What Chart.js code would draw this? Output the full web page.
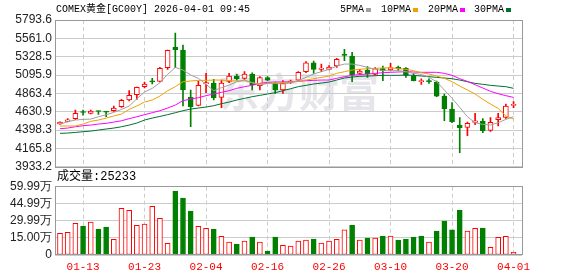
<!DOCTYPE html>
<html>
<head>
<meta charset="utf-8">
<script src="https://cdn.jsdelivr.net/npm/chart.js@4.4.1/dist/chart.umd.min.js"></script>
<style>
body{margin:0;background:#fff;}
#wrap{position:relative;width:578px;height:276px;}
canvas{position:absolute;left:0;top:0;}
</style>
</head>
<body>
<div id="wrap">
<canvas id="kChart" width="578" height="276"></canvas>
<canvas id="volChart" width="578" height="276"></canvas>
</div>
<script>
'use strict';

let title = 'COMEX黄金[GC00Y] 2026-04-01 09:45';
let volTitle = '成交量';

let dates = ['01-08','01-09','01-12','01-13','01-14','01-15','01-16','01-19','01-20','01-21',
'01-22','01-23','01-26','01-27','01-28','01-29','01-30','02-02','02-03','02-04',
'02-05','02-06','02-09','02-10','02-11','02-12','02-13','02-16','02-17','02-18',
'02-19','02-20','02-23','02-24','02-25','02-26','02-27','03-02','03-03','03-04',
'03-05','03-06','03-09','03-10','03-11','03-12','03-13','03-16','03-17','03-18',
'03-19','03-20','03-23','03-24','03-25','03-26','03-27','03-30','03-31','04-01'];

let open  = [4475,4508,4542,4624,4610,4637,4628,4643,4694,4779,4846,4948,5014,5015,5189,5451,5413,4812,4711,4982,
4994,4812,5015,5083,5053,5108,4960,5062,4990,4906,5003,5032,5138,5252,5168,5168,5210,5362,5337,5117,
5159,5104,5176,5159,5193,5180,5083,5013,5017,5007,4829,4664,4461,4432,4495,4512,4394,4529,4559,4711];
let high  = [4502,4542,4652,4652,4652,4640,4632,4702,4787,4897,4944,5007,5053,5193,5413,5629,5476,4906,5020,5117,
5041,5032,5117,5104,5138,5125,5075,5075,5007,5024,5032,5138,5265,5273,5235,5214,5307,5421,5383,5168,
5202,5189,5210,5244,5210,5189,5117,5049,5049,5020,4855,4745,4555,4500,4609,4542,4555,4609,4728,4758];
let low   = [4470,4500,4529,4588,4601,4597,4567,4635,4686,4766,4787,4931,4982,5007,5168,5189,4703,4440,4703,4872,
4779,4681,4999,5032,5041,4906,4906,5024,4863,4863,4990,5024,5125,5117,5138,5159,5193,5278,5011,5104,
5066,5096,5024,5151,5151,5066,5020,4978,4990,4821,4516,4491,4110,4326,4466,4364,4381,4449,4546,4681];
let close = [4498,4529,4610,4620,4639,4633,4625,4677,4774,4838,4939,4982,5009,5180,5409,5417,4906,4694,4965,4999,
4808,4994,5083,5049,5108,4969,5062,5032,4906,4990,5020,5130,5252,5168,5185,5197,5295,5345,5096,5147,
5108,5176,5151,5189,5172,5092,5024,5017,5013,4829,4669,4504,4428,4483,4516,4390,4495,4555,4703,4724];

let ma5  = [4470,4504,4525,4533,4537,4567,4592,4622,4660,4702,4795,4880,4927,4999,5104,5193,5159,5096,5054,4978,
4897,4935,4969,5011,5032,4999,4969,4990,4990,4982,4999,5024,5066,5109,5138,5168,5210,5235,5235,5218,
5193,5168,5151,5151,5151,5138,5117,5104,5066,5011,4906,4800,4686,4567,4491,4470,4461,4491,4533,4567];
let ma10 = [4449,4449,4449,4474,4508,4525,4550,4576,4601,4660,4703,4753,4779,4829,4897,4948,5011,5020,5028,5028,
5032,5032,5024,5020,5024,4999,4982,4990,4999,4999,5007,5015,5032,5049,5066,5083,5117,5138,5159,5168,
5176,5180,5185,5189,5176,5168,5151,5125,5109,5083,5054,5011,4956,4906,4855,4787,4728,4673,4576,4538];
let ma20 = [4415,4423,4440,4453,4461,4474,4483,4499,4516,4542,4567,4593,4618,4643,4677,4715,4770,4791,4808,4834,
4855,4876,4897,4927,4948,4965,4990,5003,5007,5007,5011,5015,5024,5028,5032,5032,5054,5075,5092,5100,
5109,5117,5125,5130,5134,5138,5134,5130,5130,5130,5117,5092,5049,5015,4973,4931,4889,4859,4834,4812];
let ma30 = [4356,4360,4368,4377,4385,4398,4411,4423,4440,4461,4487,4525,4550,4571,4593,4618,4643,4664,4677,4690,
4707,4732,4753,4779,4800,4821,4838,4855,4872,4897,4922,4948,4965,4982,4994,5007,5032,5058,5070,5079,
5083,5087,5092,5092,5092,5096,5092,5083,5075,5066,5058,5049,5032,5011,4990,4978,4965,4956,4948,4927];

let volume = [190000,199000,278000,255000,290000,228000,246000,138000,410000,392000,260000,272000,427000,322000,102000,562000,500000,386000,252000,234000,
228000,164000,114000,97000,123000,158000,114000,35000,158000,85000,79000,123000,132000,140000,105000,123000,138000,220000,263000,132000,
149000,149000,167000,167000,132000,140000,158000,167000,114000,211000,299000,220000,395000,211000,234000,237000,67000,155000,164000,25233];
let volUp = [1,1,1,0,1,0,0,1,1,1,1,1,1,1,1,0,0,0,1,1,
0,1,1,0,1,0,1,0,0,1,1,1,1,0,1,1,1,1,0,1,
0,1,0,1,0,0,0,0,1,0,0,0,0,1,1,0,1,1,1,1];

let yTicks = [3933.2,4165.8,4398.3,4630.9,4863.4,5095.9,5328.5,5561.0,5793.6];
let volTicks = [0,149975,299950,449925,599900];
let volTickLabels = ['0','15.00万','29.99万','44.99万','59.99万'];
let xLabels = ['01-13','01-23','02-04','02-16','02-26','03-10','03-20','04-01'];

let maNames = ['5PMA','10PMA','20PMA','30PMA'];
let maColors = ['#a0a0a0','#f0a000','#ff00ff','#007030'];
let RED = '#ff0000';
let GREEN = '#008000';
let monoFont = '"Liberation Mono","Noto Sans CJK SC",monospace';

let tickIdx = xLabels.map(d => dates.indexOf(d));

function isUp(i){
    return close[i] >= open[i];
}

let framePlugin = {
    id: 'frame',
    afterDraw(chart){
        let a = chart.chartArea;
        let c = chart.ctx;
        c.save();
        c.strokeStyle = '#999';
        c.lineWidth = 1;
        c.strokeRect(Math.floor(a.left)+0.5, Math.floor(a.top)+0.5, Math.round(a.right-a.left), Math.round(a.bottom-a.top));
        c.restore();
    }
};

let textPlugin = {
    id: 'texts',
    beforeDraw(chart){
        let c = chart.ctx;
        c.save();
        c.fillStyle = '#e6e6ea';
        c.font = 'bold 40px "Noto Sans CJK SC"';
        c.textAlign = 'center';
        c.textBaseline = 'middle';
        c.fillText('东方财富', 299, 92);
        c.restore();
    },
    afterDraw(chart){
        let c = chart.ctx;
        c.save();
        c.fillStyle = '#000';
        c.font = '10px ' + monoFont;
        c.textBaseline = 'middle';
        c.fillText(title, 56, 9);
        let lx = [340, 381, 428, 474];
        for (let k = 0; k < maNames.length; k++) {
            c.fillStyle = '#000';
            c.fillText(maNames[k], lx[k], 9);
            let w = c.measureText(maNames[k]).width;
            c.fillStyle = maColors[k];
            c.fillRect(lx[k] + w + 2, 8, 5, 4);
        }
        c.restore();
    }
};

let volTextPlugin = {
    id: 'voltext',
    afterDraw(chart){
        let c = chart.ctx;
        c.save();
        c.fillStyle = '#000';
        c.font = '12px ' + monoFont;
        c.textBaseline = 'middle';
        c.fillText(volTitle + ':' + volume[volume.length-1], 57, 177);
        c.restore();
    }
};

let xCommon = {
    type: 'linear',
    min: -0.65,
    max: 60.1,
    offset: false,
    afterBuildTicks: s => { s.ticks = tickIdx.map(v => ({value: v})); },
    grid: {color: '#cccccc', drawTicks: false, offset: false},
    border: {display: false, dash: [4, 3]}
};

let kChart = new Chart(document.getElementById('kChart'), {
    type: 'bar',
    data: {
        datasets: [
            {
                type: 'line', label: 'MA5', data: ma5.map((v,i) => ({x:i, y:v})),
                borderColor: maColors[0], borderWidth: 1, pointRadius: 0, order: -4
            },
            {
                type: 'line', label: 'MA10', data: ma10.map((v,i) => ({x:i, y:v})),
                borderColor: maColors[1], borderWidth: 1, pointRadius: 0, order: -3
            },
            {
                type: 'line', label: 'MA20', data: ma20.map((v,i) => ({x:i, y:v})),
                borderColor: maColors[2], borderWidth: 1, pointRadius: 0, order: -2
            },
            {
                type: 'line', label: 'MA30', data: ma30.map((v,i) => ({x:i, y:v})),
                borderColor: maColors[3], borderWidth: 1, pointRadius: 0, order: -1
            },
            {
                label: 'body', data: open.map((v,i) => ({x:i, y:[v, close[i]]})),
                backgroundColor: ctx => isUp(ctx.dataIndex) ? '#ffffff' : GREEN,
                borderColor: ctx => isUp(ctx.dataIndex) ? RED : GREEN,
                borderWidth: 1, borderSkipped: false, barThickness: 5, minBarLength: 1,
                grouped: false, order: 0
            },
            {
                label: 'wick', data: low.map((v,i) => ({x:i, y:[v, high[i]]})),
                backgroundColor: ctx => isUp(ctx.dataIndex) ? RED : GREEN,
                borderWidth: 0, barThickness: 1, grouped: false, order: 1
            }
        ]
    },
    options: {
        responsive: false,
        animation: false,
        devicePixelRatio: 1,
        layout: {padding: {top: 20, bottom: 109.3, left: 0, right: 56}},
        plugins: {legend: {display: false}, tooltip: {enabled: false}},
        scales: {
            x: Object.assign({}, xCommon, {
                ticks: {display: false},
                afterFit: s => { s.height = 0; }
            }),
            y: {
                min: 3933.2,
                max: 5793.6,
                afterBuildTicks: s => { s.ticks = yTicks.map(v => ({value: v})); },
                ticks: {callback: v => v.toFixed(1), color: '#222', autoSkip: false, font: {family: 'Liberation Sans', size: 12}, padding: 3},
                grid: {color: '#cccccc', drawTicks: false},
                border: {display: false},
                afterFit: s => { s.width = 55; }
            }
        }
    },
    plugins: [textPlugin, framePlugin]
});

let volChart = new Chart(document.getElementById('volChart'), {
    type: 'bar',
    data: {
        datasets: [{
            label: 'volume', data: volume.map((v,i) => ({x:i, y:v})),
            backgroundColor: ctx => volUp[ctx.dataIndex] ? '#ffffff' : GREEN,
            borderColor: ctx => volUp[ctx.dataIndex] ? RED : GREEN,
            borderWidth: 1, borderSkipped: false, barThickness: 5, grouped: false
        }]
    },
    options: {
        responsive: false,
        animation: false,
        devicePixelRatio: 1,
        layout: {padding: {top: 186.7, bottom: 0, left: 0, right: 56}},
        plugins: {legend: {display: false}, tooltip: {enabled: false}},
        scales: {
            x: Object.assign({}, xCommon, {
                ticks: {
                    callback: v => dates[v], color: RED, autoSkip: false, maxRotation: 0,
                    font: {family: 'Liberation Mono', size: 11}, padding: 5
                },
                afterFit: s => { s.height = 21; }
            }),
            y: {
                min: 0,
                max: 599900,
                afterBuildTicks: s => { s.ticks = volTicks.map(v => ({value: v})); },
                ticks: {callback: (v, idx) => volTickLabels[idx], color: '#222', autoSkip: false, font: {family: 'Liberation Sans', size: 12}, padding: 3},
                grid: {color: '#cccccc', drawTicks: false},
                border: {display: false},
                afterFit: s => { s.width = 55; }
            }
        }
    },
    plugins: [volTextPlugin, framePlugin]
});
</script>
</body>
</html>
